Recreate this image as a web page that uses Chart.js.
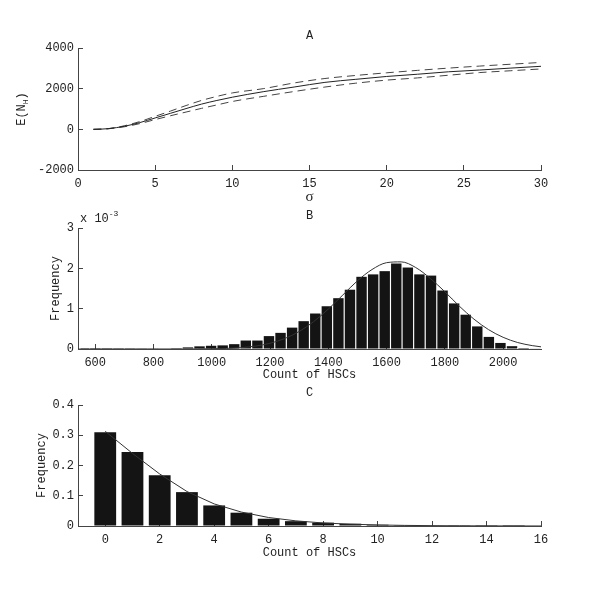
<!DOCTYPE html>
<html>
<head>
<meta charset="utf-8">
<script src="https://cdn.jsdelivr.net/npm/chart.js@4.4.0/dist/chart.umd.min.js"></script>
<style>
  body { margin: 0; background: #fff; }
  .panel { position: absolute; left: 0; width: 600px; }
</style>
</head>
<body>
<div class="panel" style="top:0;height:205px"><canvas id="chartA" width="600" height="205"></canvas></div>
<div class="panel" style="top:205px;height:178px"><canvas id="chartB" width="600" height="178"></canvas></div>
<div class="panel" style="top:383px;height:211px"><canvas id="chartC" width="600" height="211"></canvas></div>
<script>
// panel A: expected number vs sigma, with upper / lower bounds
const sigma = [1, 1.5, 2, 2.5, 3, 4, 5, 6, 7, 8, 9, 10, 12, 14, 16, 18, 20, 22, 24, 26, 28, 30];
const meanNH = [0, 10, 35, 85, 150, 330, 560, 790, 1020, 1240, 1420, 1580, 1850, 2080, 2310, 2460, 2600, 2710, 2830, 2915, 3010, 3100];
const upperNH = [0, 12, 40, 95, 175, 380, 640, 900, 1170, 1420, 1620, 1790, 2000, 2280, 2500, 2650, 2780, 2900, 3010, 3110, 3200, 3290];
const lowerNH = [0, 8, 30, 75, 125, 280, 480, 670, 850, 1030, 1200, 1370, 1620, 1860, 2080, 2270, 2420, 2530, 2660, 2790, 2880, 2970];
const ticksAx = [0, 5, 10, 15, 20, 25, 30];
const ticksAy = [-2000, 0, 2000, 4000];

// panel B: histogram of HSC counts (frequency x 10^-3)
const binCentersB = [560.9, 600.6, 640.3, 680.0, 719.7, 759.5, 799.2, 838.9, 878.6, 918.3,
  958.1, 997.8, 1037.5, 1077.2, 1116.9, 1156.7, 1196.4, 1236.1, 1275.8, 1315.5,
  1355.3, 1395.0, 1434.7, 1474.4, 1514.1, 1553.9, 1593.6, 1633.3, 1673.0, 1712.7,
  1752.5, 1792.2, 1831.9, 1871.6, 1911.3, 1951.1, 1990.8, 2030.5, 2070.2, 2109.9];
const freqB = [0.003, 0.003, 0.003, 0.005, 0.006, 0.008, 0.01, 0.012, 0.02, 0.04,
  0.066, 0.08, 0.09, 0.12, 0.21, 0.21, 0.32, 0.40, 0.53, 0.69,
  0.88, 1.06, 1.26, 1.47, 1.79, 1.85, 1.93, 2.12, 2.02, 1.85,
  1.82, 1.45, 1.13, 0.85, 0.56, 0.30, 0.15, 0.07, 0.025, 0.01];
const fitBx = [550, 600, 650, 700, 750, 800, 850, 900, 950, 1000, 1050, 1100, 1150, 1200, 1250, 1300,
  1350, 1400, 1450, 1500, 1550, 1600, 1650, 1700, 1750, 1800, 1850, 1900, 1950, 2000, 2050, 2100, 2130];
const fitBy = [0, 0, 0, 0, 0, 0.0001, 0.0003, 0.0008, 0.0023, 0.0062, 0.015, 0.034, 0.072, 0.142, 0.258, 0.434,
  0.68, 0.99, 1.34, 1.69, 1.97, 2.14, 2.16, 2.02, 1.75, 1.42, 1.06, 0.74, 0.48, 0.29, 0.16, 0.084, 0.054];
const ticksBx = [600, 800, 1000, 1200, 1400, 1600, 1800, 2000];
const ticksBy = [0, 1, 2, 3];

// panel C: histogram of small HSC counts
const countC = [0, 1, 2, 3, 4, 5, 6, 7, 8, 9, 10, 11, 12, 13, 14, 15];
const freqC = [0.31, 0.245, 0.168, 0.112, 0.068, 0.044, 0.024, 0.016, 0.011, 0.0075, 0.004, 0.0025, 0.0015, 0.0008, 0.0005, 0.0003];
const fitCx = [0, 1, 2, 3, 4, 5, 6, 7, 8, 9, 10, 11, 12, 13, 14, 15, 16];
const fitCy = [0.313, 0.24, 0.172, 0.114, 0.073, 0.046, 0.028, 0.017, 0.010, 0.006, 0.0035, 0.002, 0.0012, 0.0007, 0.0004, 0.0002, 0.0001];
const ticksCx = [0, 2, 4, 6, 8, 10, 12, 14, 16];
const ticksCy = [0, 0.1, 0.2, 0.3, 0.4];

const FONT = '"Liberation Mono", "DejaVu Sans Mono", monospace';
Chart.defaults.font.family = FONT;
Chart.defaults.font.size = 12;
Chart.defaults.color = '#222';

const pts = (xs, ys) => xs.map((x, i) => ({x: x, y: ys[i]}));

// titles and axis labels (with sub/superscripts) drawn around the chart area
const panelText = {
  id: 'panelText',
  afterDraw(chart, args, o) {
    const ctx = chart.ctx, a = chart.chartArea;
    const cx = (a.left + a.right) / 2;
    ctx.save();
    ctx.fillStyle = '#222';
    ctx.textBaseline = 'middle';
    ctx.textAlign = 'center';
    ctx.font = '12px ' + FONT;
    ctx.fillText(o.title, cx, a.top - 12);
    ctx.font = o.xFont || '12px ' + FONT;
    ctx.fillText(o.xLabel, cx, a.bottom + o.xGap);
    if (o.corner) drawParts(ctx, o.corner, a.left + 2, a.top - 9);
    ctx.translate(o.yX, (a.top + a.bottom) / 2);
    ctx.rotate(-Math.PI / 2);
    let w = 0;
    o.yParts.forEach(p => { ctx.font = (p.sub ? '8px ' : '12px ') + FONT; w += ctx.measureText(p.t).width; });
    drawParts(ctx, o.yParts, -w / 2, 0);
    ctx.restore();
  }
};

function drawParts(ctx, parts, x, y) {
  ctx.textAlign = 'left';
  parts.forEach(p => {
    ctx.font = ((p.sub || p.sup) ? '8px ' : '12px ') + FONT;
    const dy = p.sub ? 4 : (p.sup ? -5 : 0);
    ctx.fillText(p.t, x, y + dy);
    x += ctx.measureText(p.t).width;
  });
}

function xAxis(min, max, tickVals, h) {
  return {
    type: 'linear', min: min, max: max, offset: false,
    border: {display: true, color: '#444'},
    grid: {display: true, drawOnChartArea: false, drawTicks: true, tickLength: -5, color: '#444', offset: false},
    ticks: {maxRotation: 0, autoSkip: false, padding: 12, callback: v => String(v)},
    afterBuildTicks(s) { s.ticks = tickVals.map(v => ({value: v})); },
    afterFit(s) { s.height = h; }
  };
}

function yAxis(min, max, tickVals) {
  return {
    min: min, max: max,
    border: {display: true, color: '#444'},
    grid: {display: true, drawOnChartArea: false, drawTicks: true, tickLength: -5, color: '#444'},
    ticks: {padding: 9, callback: v => String(v)},
    afterBuildTicks(s) { s.ticks = tickVals.map(v => ({value: v})); },
    afterFit(s) { s.width = 78; }
  };
}

function baseOptions(pad, x, y, text) {
  return {
    responsive: false,
    animation: false,
    layout: {padding: pad},
    plugins: {legend: {display: false}, tooltip: {enabled: false}, panelText: text},
    scales: {x: x, y: y}
  };
}

new Chart(document.getElementById('chartA'), {
  type: 'line',
  data: {
    datasets: [
      {data: pts(sigma, meanNH), borderColor: '#222', borderWidth: 1, pointRadius: 0, cubicInterpolationMode: 'monotone'},
      {data: pts(sigma, upperNH), borderColor: '#444', borderWidth: 1, borderDash: [8, 5], pointRadius: 0, cubicInterpolationMode: 'monotone'},
      {data: pts(sigma, lowerNH), borderColor: '#444', borderWidth: 1, borderDash: [8, 5], pointRadius: 0, cubicInterpolationMode: 'monotone'}
    ]
  },
  options: baseOptions({left: 0, right: 59, top: 48, bottom: 0},
    xAxis(0, 30, ticksAx, 35), yAxis(-2000, 4000, ticksAy),
    {title: 'A', xLabel: 'σ', xFont: '15px "Liberation Serif"', xGap: 27, yX: 22,
     yParts: [{t: 'E(N'}, {t: 'H', sub: true}, {t: ')'}]}),
  plugins: [panelText]
});

new Chart(document.getElementById('chartB'), {
  type: 'bar',
  data: {
    datasets: [
      {type: 'line', data: pts(fitBx, fitBy), borderColor: '#333', borderWidth: 1, pointRadius: 0, cubicInterpolationMode: 'monotone', order: 0},
      {data: pts(binCentersB, freqB), backgroundColor: '#141414', borderWidth: 0, barPercentage: 0.9, categoryPercentage: 1, order: 1}
    ]
  },
  options: baseOptions({left: 0, right: 59, top: 23, bottom: 0},
    xAxis(541, 2130, ticksBx, 34), yAxis(0, 3, ticksBy),
    {title: 'B', xLabel: 'Count of HSCs', xGap: 26, yX: 56,
     yParts: [{t: 'Frequency'}], corner: [{t: 'x 10'}, {t: '-3', sup: true}]}),
  plugins: [panelText]
});

new Chart(document.getElementById('chartC'), {
  type: 'bar',
  data: {
    datasets: [
      {type: 'line', data: pts(fitCx, fitCy), borderColor: '#333', borderWidth: 1, pointRadius: 0, tension: 0, order: 0},
      {data: pts(countC, freqC), backgroundColor: '#141414', borderWidth: 0, barPercentage: 0.8, categoryPercentage: 1, order: 1}
    ]
  },
  options: baseOptions({left: 0, right: 59, top: 22, bottom: 0},
    xAxis(-1, 16, ticksCx, 68), yAxis(0, 0.4, ticksCy),
    {title: 'C', xLabel: 'Count of HSCs', xGap: 27, yX: 42,
     yParts: [{t: 'Frequency'}]}),
  plugins: [panelText]
});
</script>
</body>
</html>
